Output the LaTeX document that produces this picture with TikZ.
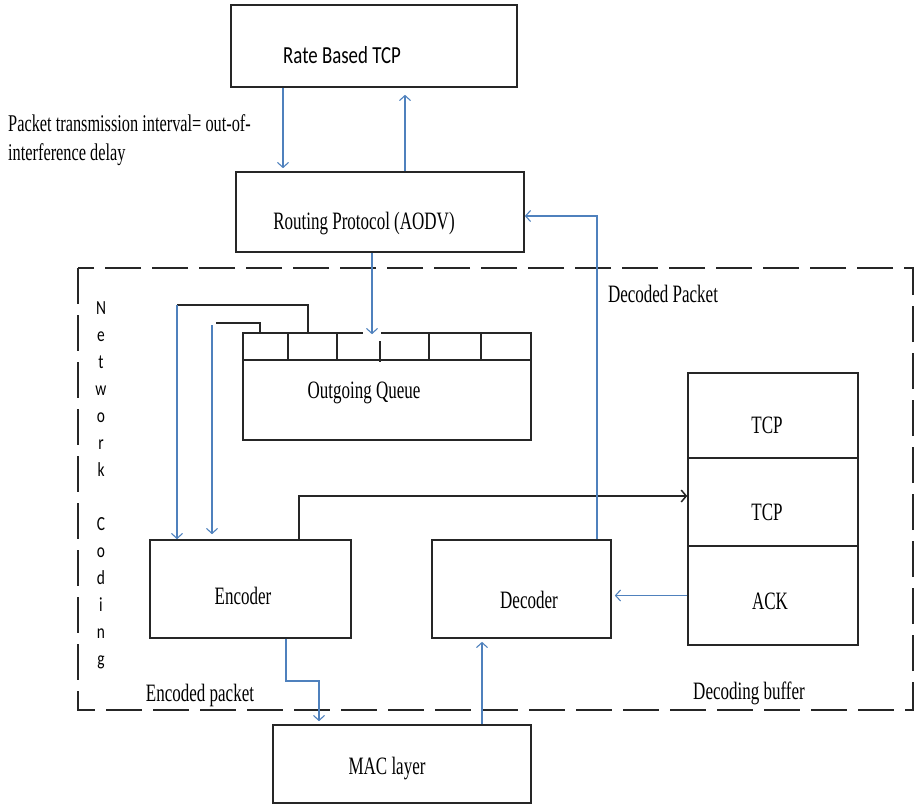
\documentclass[tikz,border=0pt]{standalone}
\usepackage{fontspec}
\setmainfont[FakeStretch=0.68]{Liberation Serif}
\newfontfamily\calfont[FakeStretch=0.77]{Carlito}
\usetikzlibrary{arrows.meta,calc}
\definecolor{lnblue}{RGB}{79,129,189}
\tikzset{
  box/.style={draw=black!85,line width=1.6pt,rectangle,inner sep=0pt},   % block
  wire/.style={draw=black!85,line width=1.5pt},                            % black link
  flow/.style={-{Straight Barb[length=5pt,width=11pt]},draw=lnblue,line width=1.1pt},
  dashbox/.style={draw=black!85,line width=1.8pt,dash pattern=on 36pt off 11pt},
  txt/.style={font=\fontsize{25}{29}\selectfont,inner sep=0pt,anchor=base},
}
\begin{document}
\begin{tikzpicture}[x=1pt,y=-1pt]
  \useasboundingbox (0,0) rectangle (917,804);
  \draw[dashbox] (78,268) rectangle (913,710);
  % blocks
  \node[box,minimum width=286,minimum height=82] (rtcp) at (374,46) {};
  \node[box,minimum width=288,minimum height=80] (route) at (380,212) {};
  \node[box,minimum width=288,minimum height=107] (queue) at (387,386.5) {};
  \node[box,minimum width=201,minimum height=98] (enc) at (250.5,589) {};
  \node[box,minimum width=179,minimum height=98] (dec) at (521.5,589) {};
  \node[box,minimum width=258,minimum height=78] (mac) at (402,764) {};
  \node[box,minimum width=170,minimum height=85] (tcp1) at (773,415.5) {};
  \node[box,minimum width=170,minimum height=88] (tcp2) at (773,502) {};
  \node[box,minimum width=170,minimum height=99] (ack) at (773,595.5) {};
  % queue cells
  \draw[wire] (243,360) -- (531,360);
  \foreach \x in {288,337,429,481} \draw[wire] (\x,333) -- (\x,360);
  \draw[wire] (380,341) -- (380,362);
  \draw[white,line width=3pt] (363,333) -- (381,333);
  % texts
  \node[txt,font=\calfont\fontsize{24.5}{28}\selectfont] (rtcpt) at (342,63) {Rate Based TCP};
  \node[txt] (routet) at (364,229) {Routing Protocol (AODV)};
  \node[txt] (queuet) at (364,398) {Outgoing Queue};
  \node[txt] (enct) at (243,604) {Encoder};
  \node[txt] (dect) at (529,608) {Decoder};
  \node[txt] (mact) at (387,774) {MAC layer};
  \node[txt] (tcp1t) at (767,433) {TCP};
  \node[txt] (tcp2t) at (767,520) {TCP};
  \node[txt] (ackt) at (770,609) {ACK};
  \node[txt] (decp) at (663,302) {Decoded Packet};
  \node[txt] (encp) at (200,701) {Encoded packet};
  \node[txt] (decb) at (749,699) {Decoding buffer};
  \node[font=\fontsize{24}{29}\selectfont,align=left,anchor=north west,inner sep=0pt] (ptint) at (8,114)
    {Packet transmission interval= out-of-\\interference delay};
  \node[font=\calfont\fontsize{20}{27}\selectfont,align=center,anchor=north,inner sep=0pt] (netcod) at (101,301.5)
    {N\\e\\t\\w\\o\\r\\k\\[27pt]C\\o\\d\\i\\n\\g};
  % links
  \coordinate (xdown) at (283,0); \coordinate (xup) at (405,0); \coordinate (xq) at (372,0);
  \draw[flow,shorten >=3pt] (rtcp.south -| xdown) -- (route.north -| xdown);
  \draw[flow,shorten >=7pt] (route.north -| xup) -- (rtcp.south -| xup);
  \draw[flow,shorten >=-2pt] (route.south -| xq) -- (queue.north -| xq);
  \coordinate (q1) at (308,305); \coordinate (q1e) at (177,305);
  \draw[wire] (queue.north -| q1) -- (q1) -- (q1e);
  \draw[flow] (q1e) -- (enc.north -| q1e);
  \coordinate (q2) at (260,323); \coordinate (q2e) at (216,323); \coordinate (q2b) at (212,325);
  \draw[wire] (queue.north -| q2) -- (q2) -- (q2e);
  \draw[flow,shorten >=5pt] (q2b) -- (enc.north -| q2b);
  \coordinate (eup) at (299,496);
  \draw[wire,-{Straight Barb[length=5pt,width=12pt]}] (enc.north -| eup) -- (eup) -- (tcp2.west |- eup);
  \coordinate (dcor) at (597,216);
  \draw[flow] (dec.north -| dcor) -- (dcor) -- (route.east |- dcor);
  \draw[flow,shorten >=3pt] (ack.west) -- (dec.east |- ack.west);
  \coordinate (eb1) at (286,681); \coordinate (eb2) at (319,681);
  \draw[flow,shorten >=3pt] (enc.south -| eb1) -- (eb1) -- (eb2) -- (mac.north -| eb2);
  \coordinate (mup) at (482,0);
  \draw[flow,shorten >=3pt] (mac.north -| mup) -- (dec.south -| mup);
\end{tikzpicture}
\end{document}
